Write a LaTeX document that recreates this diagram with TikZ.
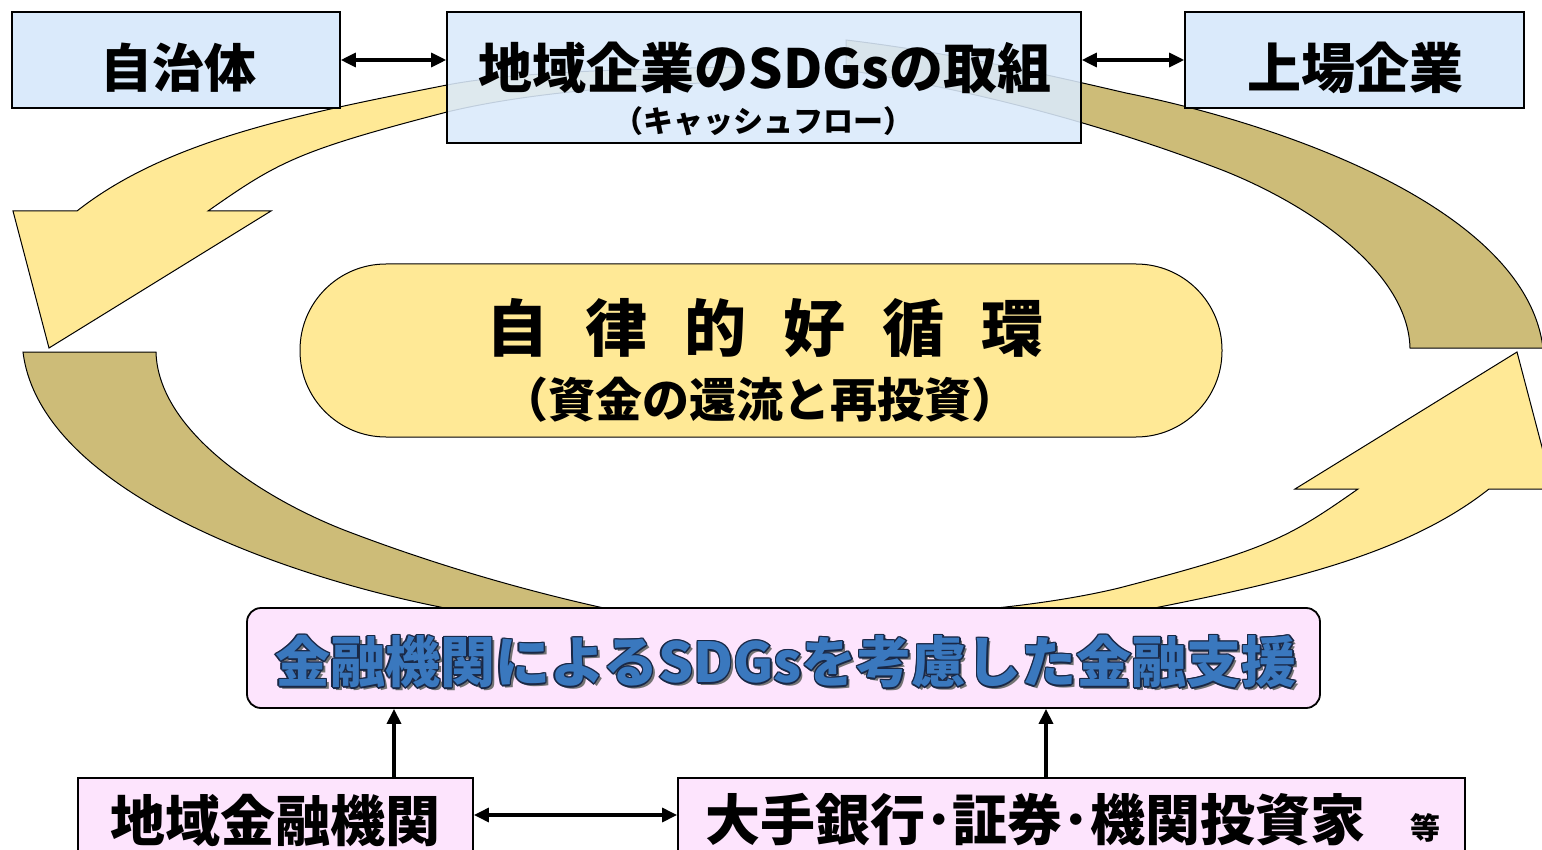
\documentclass[tikz,border=0pt]{standalone}
\usepackage{fontspec}
\setmainfont{Noto Sans CJK JP}
\usetikzlibrary{arrows.meta}
\definecolor{boxblue}{RGB}{218,234,251}
\definecolor{pillyel}{RGB}{255,233,150}
\definecolor{bandyel}{RGB}{255,233,150}
\definecolor{bandbrn}{RGB}{205,188,120}
\definecolor{pinkbg}{RGB}{253,228,253}
\definecolor{txtblue}{RGB}{58,120,190}
\definecolor{outl}{RGB}{25,40,70}
\newcommand\shientext{金融機関によるSDGsを考慮した金融支援}
\begin{document}
\begin{tikzpicture}[x=1pt,y=-1pt,
  bluebox/.style={draw=black, line width=1.6pt, fill=boxblue},
  pinkrect/.style={draw=black, line width=1.8pt, fill=pinkbg},
  band/.style={draw=black, line width=1pt, line join=miter},
  jt/.style={inner sep=0pt, anchor=center},
  arr/.style={line width=3.4pt, -{Triangle[length=15pt,width=14pt]}},
  dbl/.style={line width=3.2pt, {Triangle[length=15pt,width=14pt]}-{Triangle[length=15pt,width=14pt]}},
  pinkfont/.style={font={\bfseries\fontsize{55}{60}\selectfont}},
]
\useasboundingbox (0,0) rectangle (1542,850);
\clip (0,0) rectangle (1542,850);
\fill[white] (0,0) rectangle (1542,850);

% ---- curved bands ----
\draw[band, fill=bandyel] (740,67) .. controls (640,69) and (520,71) .. (447,85)
  .. controls (300,114) and (167,140) .. (77,211)
  -- (13,211) -- (49,348) -- (271,211) -- (208,211)
  .. controls (278,162) and (297,151) .. (447,112)
  .. controls (530,92) and (640,84) .. (740,82) -- cycle;
\draw[band, fill=bandbrn] (23,352) -- (156,352)
  .. controls (158,430) and (260,497) .. (344,530)
  .. controls (430,563) and (560,605) .. (720,630)
  -- (720,660)
  .. controls (620,648) and (530,628) .. (440,607)
  .. controls (280,575) and (40,490) .. (23,352) -- cycle;
\begin{scope}[rotate around={180:(783,350)}]
\draw[band, fill=bandyel] (740,67) .. controls (640,69) and (520,71) .. (447,85)
  .. controls (300,114) and (167,140) .. (77,211)
  -- (13,211) -- (49,348) -- (271,211) -- (208,211)
  .. controls (278,162) and (297,151) .. (447,112)
  .. controls (530,92) and (640,84) .. (740,82) -- cycle;
\draw[band, fill=bandbrn] (23,352) -- (156,352)
  .. controls (158,430) and (260,497) .. (344,530)
  .. controls (430,563) and (560,605) .. (720,630)
  -- (720,660)
  .. controls (620,648) and (530,628) .. (440,607)
  .. controls (280,575) and (40,490) .. (23,352) -- cycle;
\end{scope}

% ---- top boxes ----
\node[bluebox, minimum width=328pt, minimum height=96pt] (jichi) at (176,60) {};
\node[jt, font={\bfseries\fontsize{52}{56}\selectfont}] (jichit) at (178,68) {自治体};
\node[draw=black, line width=1.6pt, fill=boxblue, fill opacity=0.88, minimum width=634pt, minimum height=131pt] (tori) at (764,77.5) {};
\node[jt, font={\bfseries\fontsize{54}{58}\selectfont}] (torit) at (765,68) {地域企業のSDGsの取組};
\node[jt, font={\bfseries\fontsize{30}{33}\selectfont}] (torit2) at (763,121) {（キャッシュフロー）};
\node[bluebox, minimum width=339pt, minimum height=96pt] (jojo) at (1354.5,60) {};
\node[jt, font={\bfseries\fontsize{54}{58}\selectfont}] (jojot) at (1355,68) {上場企業};

\draw[dbl] (jichi.east) -- (jichi.east -| tori.west);
\draw[dbl] (tori.east |- jojo.west) -- (jojo.west);

% ---- central pill ----
\node[draw=black, line width=1pt, fill=pillyel, rounded corners=86pt, minimum width=922pt, minimum height=173pt] (pill) at (761,350.5) {};
\node[jt, font={\bfseries\fontsize{62}{66}\selectfont}] (pillt) at (765,328) {自\hspace{37pt}律\hspace{37pt}的\hspace{37pt}好\hspace{37pt}循\hspace{37pt}環};
\node[jt, font={\bfseries\fontsize{47}{50}\selectfont}] (pillt2) at (760,400) {（資金の還流と再投資）};

% ---- pink support box ----
\node[pinkrect, rounded corners=14pt, minimum width=1073pt, minimum height=100pt] (shien) at (783.5,658) {};
\node[jt, pinkfont, text=black!55] (shiensh) at (789,665) {\shientext};
\foreach \dx/\dy [count=\k] in {-1.4/0,1.4/0,0/-1.4,0/1.4,-1/-1,1/1,-1/1,1/-1}{
  \node[jt, pinkfont, text=outl] (shienol\k) at (786+\dx,662+\dy) {\shientext};
}
\node[jt, pinkfont, text=txtblue] (shient) at (786,662) {\shientext};

% ---- bottom boxes ----
\node[pinkrect, minimum width=395pt, minimum height=94pt] (chiiki) at (275.5,825) {};
\node[jt, font={\bfseries\fontsize{55}{58}\selectfont}] (chiikit) at (275,820) {地域金融機関};
\node[pinkrect, minimum width=787pt, minimum height=94pt] (ote) at (1071.5,825) {};
\node[jt, font={\bfseries\fontsize{55}{58}\selectfont}] (otet) at (1035,820) {大手銀行･証券･機関投資家};
\node[jt, font={\bfseries\fontsize{30}{32}\selectfont}] (otet2) at (1425,828) {等};

\draw[arr] (chiiki.north -| 394,0) -- (shien.south -| 394,0);
\draw[arr] (ote.north -| 1046,0) -- (shien.south -| 1046,0);
\draw[dbl] (chiiki.east |- 0,815) -- (ote.west |- 0,815);
\end{tikzpicture}
\end{document}
